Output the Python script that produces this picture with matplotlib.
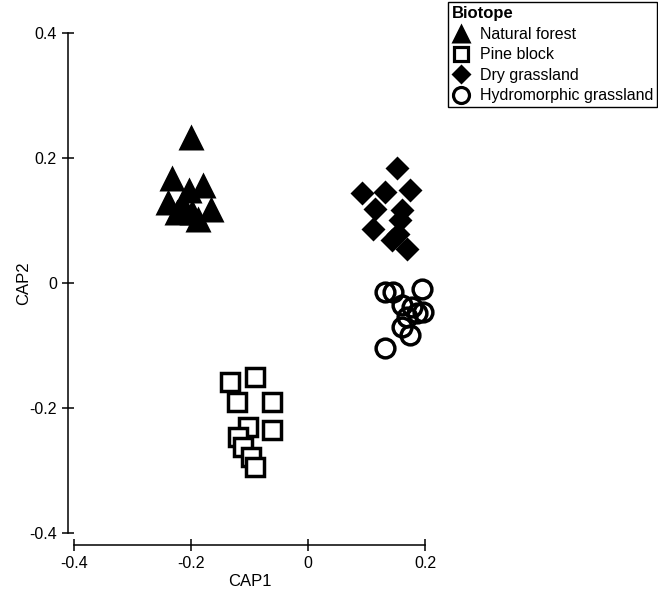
import matplotlib
matplotlib.use("Agg")
import matplotlib.pyplot as plt
import matplotlib.transforms as mtransforms
from matplotlib.lines import Line2D

plt.rcParams['font.family'] = ['Liberation Sans', 'DejaVu Sans']
plt.rcParams['axes.unicode_minus'] = False

# CAP scores per biotope
forest_x = [-0.200, -0.232, -0.180, -0.203, -0.240, -0.215, -0.165, -0.224, -0.198, -0.188]
forest_y = [0.234, 0.167, 0.156, 0.148, 0.130, 0.128, 0.118, 0.114, 0.113, 0.102]

pine_x = [-0.133, -0.091, -0.122, -0.062, -0.102, -0.062, -0.119, -0.111, -0.097, -0.091]
pine_y = [-0.158, -0.150, -0.190, -0.190, -0.230, -0.235, -0.247, -0.262, -0.278, -0.295]

dry_x = [0.152, 0.092, 0.132, 0.174, 0.115, 0.160, 0.111, 0.157, 0.154, 0.143, 0.169]
dry_y = [0.183, 0.143, 0.146, 0.149, 0.119, 0.117, 0.087, 0.100, 0.079, 0.069, 0.055]

hydro_x = [0.132, 0.146, 0.194, 0.160, 0.177, 0.197, 0.186, 0.169, 0.160, 0.174, 0.132]
hydro_y = [-0.014, -0.014, -0.009, -0.035, -0.038, -0.046, -0.048, -0.054, -0.070, -0.083, -0.104]

groups = ['Natural forest', 'Pine block', 'Dry grassland', 'Hydromorphic grassland']

fig = plt.figure(figsize=(6.58, 5.97), dpi=100)
ax = fig.add_axes([68 / 658, 52 / 597, 372 / 658, 525 / 597])

ax.plot(forest_x, forest_y, ls='none', marker='^', ms=18.5, color='black', mec='none')
ax.plot(pine_x, pine_y, ls='none', marker='s', ms=12.5, mfc='white', mec='black', mew=2.5)
ax.plot(dry_x, dry_y, ls='none', marker='D', ms=12, color='black', mec='none')
ax.plot(hydro_x, hydro_y, ls='none', marker='o', ms=13.5, mfc='none', mec='black', mew=2.5)

ax.set_xlim(-0.41026, 0.2256)
ax.set_ylim(-0.4192, 0.4205)
ax.set_xticks([-0.4, -0.2, 0, 0.2])
ax.set_xticklabels(['-0.4', '-0.2', '0', '0.2'])
ax.set_yticks([-0.4, -0.2, 0, 0.2, 0.4])
ax.set_yticklabels(['-0.4', '-0.2', '0', '0.2', '0.4'])

for side in ['top', 'right']:
    ax.spines[side].set_visible(False)
ax.spines['left'].set_bounds(-0.4, 0.4)
ax.spines['bottom'].set_bounds(-0.4, 0.2)
for side in ['left', 'bottom']:
    ax.spines[side].set_linewidth(1.1)
ax.tick_params(direction='inout', length=8, width=1.1, labelsize=11.5, colors='black', pad=4)

ax.set_xlabel('CAP1', fontsize=12)
ax.set_ylabel('CAP2', fontsize=12)
ax.xaxis.set_label_coords(-0.1, -0.055,
                          transform=mtransforms.blended_transform_factory(ax.transData, ax.transAxes))
ax.yaxis.set_label_coords(-0.1, 0.0,
                          transform=mtransforms.blended_transform_factory(ax.transAxes, ax.transData))

handles = [
    Line2D([], [], ls='none', marker='^', ms=15, color='black', mec='none'),
    Line2D([], [], ls='none', marker='s', ms=10, mfc='white', mec='black', mew=2.3),
    Line2D([], [], ls='none', marker='D', ms=10.5, color='black', mec='none'),
    Line2D([], [], ls='none', marker='o', ms=11.5, mfc='none', mec='black', mew=2.3),
]
leg = fig.legend(handles, groups, title='Biotope', loc='upper right',
                 bbox_to_anchor=(657 / 658, 1 - 2 / 597), fontsize=11.5,
                 title_fontproperties={'weight': 'bold', 'size': 12},
                 alignment='left', fancybox=False, framealpha=1, edgecolor='black',
                 handlelength=1.2, handletextpad=0.55, borderpad=0.25, labelspacing=0.35,
                 borderaxespad=0)
leg.get_frame().set_linewidth(1.0)

fig.savefig('out.png', dpi=100)
